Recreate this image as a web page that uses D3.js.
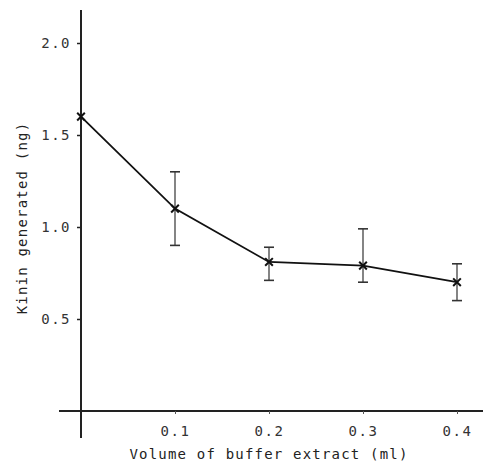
<!DOCTYPE html>
<html><head><meta charset="utf-8">
<script src="https://cdn.jsdelivr.net/npm/d3@7"></script>
<style>body{margin:0;background:#fff}svg{display:block}</style>
</head><body><svg id="c" width="483" height="469"></svg>
<script>
const volumes = [0, 0.1, 0.2, 0.3, 0.4];
const kinin = [1.6, 1.1, 0.81, 0.79, 0.70];
const errLow = [1.6, 0.9, 0.71, 0.70, 0.60];
const errHigh = [1.6, 1.3, 0.89, 0.99, 0.80];
const xTicks = [0.1, 0.2, 0.3, 0.4];
const yTicks = [0.5, 1.0, 1.5, 2.0];

const svg = d3.select("#c");
const x = d3.scaleLinear().domain([0, 0.4]).range([81, 457]);
const y = d3.scaleLinear().domain([0, 2.0]).range([411, 43]);
const font = "'DejaVu Sans Mono', 'Liberation Mono', monospace";
const ink = "#222";

// axes lines
svg.append("line").attr("x1", x(0)).attr("x2", x(0)).attr("y1", 10).attr("y2", 438)
  .attr("stroke", ink).attr("stroke-width", 2);
svg.append("line").attr("x1", 59).attr("x2", 483).attr("y1", y(0)).attr("y2", y(0))
  .attr("stroke", ink).attr("stroke-width", 2);

// y axis ticks
const yAxis = d3.axisLeft(y).tickValues(yTicks).tickFormat(d3.format(".1f")).tickSize(4).tickPadding(6);
const gy = svg.append("g").attr("transform", `translate(${x(0)},0)`).call(yAxis);
gy.select(".domain").remove();
gy.selectAll("line").attr("stroke", ink).attr("stroke-width", 1.5);
gy.selectAll("text").attr("font-family", font).attr("font-size", 14).attr("fill", "#333")
  .attr("letter-spacing", "1.5px");

// x axis ticks
const xAxis = d3.axisBottom(x).tickValues(xTicks).tickFormat(d3.format(".1f")).tickSize(3).tickPadding(12);
const gx = svg.append("g").attr("transform", `translate(0,${y(0)})`).call(xAxis);
gx.select(".domain").remove();
gx.selectAll("line").attr("stroke", "#555").attr("stroke-width", 1);
gx.selectAll("text").attr("font-family", font).attr("font-size", 14).attr("fill", "#333")
  .attr("letter-spacing", "1.5px");

// labels
svg.append("text").attr("x", 269).attr("y", 459).attr("text-anchor", "middle")
  .attr("font-family", font).attr("font-size", 14).attr("letter-spacing", "1.2px").attr("fill", "#222")
  .text("Volume of buffer extract (ml)");
svg.append("text").attr("transform", "translate(27,218) rotate(-90)").attr("text-anchor", "middle")
  .attr("font-family", font).attr("font-size", 14).attr("letter-spacing", "1.2px").attr("fill", "#222")
  .text("Kinin generated (ng)");

const data = volumes.map((v, i) => ({v, k: kinin[i], lo: errLow[i], hi: errHigh[i]}));

// error bars
const eb = svg.append("g").attr("stroke", "#333").attr("stroke-width", 1.2);
data.filter(d => d.hi > d.lo).forEach(d => {
  eb.append("line").attr("x1", x(d.v)).attr("x2", x(d.v)).attr("y1", y(d.lo)).attr("y2", y(d.hi));
  eb.append("line").attr("x1", x(d.v) - 5).attr("x2", x(d.v) + 5).attr("y1", y(d.lo)).attr("y2", y(d.lo)).attr("stroke-width", 1.6);
  eb.append("line").attr("x1", x(d.v) - 5).attr("x2", x(d.v) + 5).attr("y1", y(d.hi)).attr("y2", y(d.hi)).attr("stroke-width", 1.6);
});

// line
svg.append("path").datum(data)
  .attr("d", d3.line().x(d => x(d.v)).y(d => y(d.k)))
  .attr("fill", "none").attr("stroke", "#111").attr("stroke-width", 1.8);

// markers
svg.append("g").selectAll("path").data(data).join("path")
  .attr("transform", d => `translate(${x(d.v)},${y(d.k)})`)
  .attr("d", d3.symbol(d3.symbolX, 40))
  .attr("stroke", "#111").attr("stroke-width", 2).attr("fill", "none");
</script></body></html>
